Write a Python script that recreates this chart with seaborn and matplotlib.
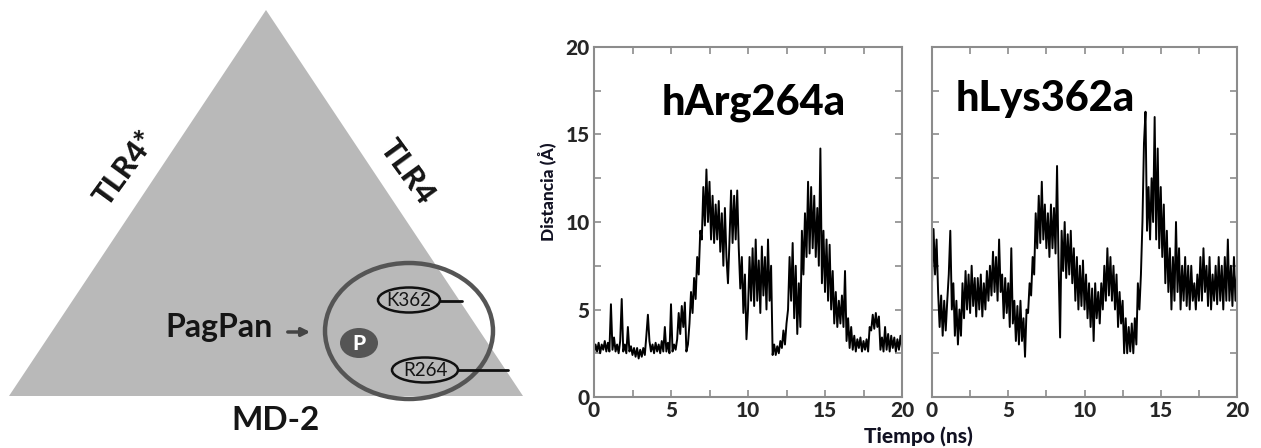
import numpy as np
import pandas as pd
import matplotlib
matplotlib.use("Agg")
import matplotlib.pyplot as plt
import seaborn as sns
from matplotlib.patches import Polygon, Ellipse, FancyArrowPatch

# distance traces, one value every 0.1 ns (0 - 20 ns)
harg264a = [
    2.5, 3.0, 2.6, 3.1, 2.5, 3.0, 2.7, 3.2, 2.6, 3.1,
    2.6, 5.3, 2.7, 3.4, 2.6, 3.0, 2.5, 3.2, 5.6, 2.6,
    3.0, 2.5, 4.0, 2.6, 2.9, 2.4, 2.8, 2.3, 2.8, 2.2,
    2.7, 2.3, 2.8, 2.4, 3.5, 4.7, 3.2, 2.6, 3.0, 2.5,
    3.1, 2.6, 3.0, 2.5, 3.2, 2.6, 4.0, 2.6, 3.1, 2.5,
    5.3, 2.6, 3.0, 2.7, 3.3, 4.8, 3.6, 5.2, 4.0, 5.4,
    2.6, 3.0, 4.2, 6.0, 4.8, 6.8, 5.6, 8.0, 7.0, 9.5,
    9.0, 12.0, 9.8, 13.0, 10.0, 12.3, 9.0, 11.5, 8.8, 11.0,
    9.0, 11.2, 8.3, 10.5, 7.5, 10.8, 8.0, 6.5, 9.0, 11.8,
    8.8, 11.5, 9.0, 11.8, 8.5, 6.2, 8.0, 4.8, 7.0, 3.3,
    5.0, 8.0, 5.5, 8.5, 5.2, 9.0, 5.5, 7.8, 4.8, 8.6,
    5.8, 8.0, 5.0, 9.0, 5.5, 7.5, 2.4, 3.0, 2.4, 2.9,
    2.5, 3.2, 2.8, 3.8, 3.0, 4.2, 5.0, 8.0, 5.5, 8.8,
    4.5, 7.5, 3.6, 6.5, 4.0, 9.5, 7.0, 10.5, 8.0, 12.3,
    8.2, 12.0, 8.5, 11.5, 8.0, 10.8, 7.5, 14.2, 6.5, 9.5,
    6.0, 9.0, 5.5, 8.7, 5.0, 7.2, 4.2, 6.0, 4.0, 5.5,
    4.2, 5.8, 4.0, 7.2, 3.2, 4.5, 2.8, 4.0, 2.7, 3.5,
    2.6, 3.3, 2.8, 3.4, 2.6, 3.2, 2.7, 3.3, 2.6, 4.0,
    3.8, 4.7, 3.9, 4.8, 4.0, 4.6, 2.7, 3.4, 2.6, 4.0,
    2.7, 3.6, 2.6, 3.5, 2.8, 3.4, 2.6, 3.3, 2.7, 3.5,
    2.8,
]

hlys362a = [
    6.5, 9.6, 7.0, 9.0, 6.0, 4.0, 5.8, 3.5, 5.5, 3.8,
    5.5, 7.0, 9.5, 5.0, 6.5, 3.5, 5.5, 3.0, 5.0, 3.5,
    6.5, 4.5, 7.2, 5.0, 7.0, 4.8, 7.5, 5.2, 6.8, 4.6,
    6.8, 5.0, 7.0, 4.6, 6.5, 5.0, 7.2, 5.5, 7.5, 5.8,
    8.3, 6.0, 8.0, 5.5, 9.0, 6.0, 7.0, 4.5, 6.8, 4.8,
    6.5, 4.0, 8.5, 4.2, 5.5, 3.2, 5.2, 3.0, 5.5, 3.2,
    4.5, 2.3, 5.0, 4.8, 6.5, 5.8, 8.0, 7.0, 10.5, 8.5,
    11.5, 8.8, 12.3, 9.0, 11.0, 8.5, 10.5, 8.0, 11.0, 8.5,
    10.8, 8.2, 13.2, 7.5, 3.4, 9.5, 7.2, 10.0, 6.8, 9.3,
    7.0, 9.5, 6.5, 8.5, 5.5, 8.0, 5.0, 7.5, 5.2, 7.8,
    5.0, 7.0, 4.5, 6.5, 4.0, 6.2, 3.2, 6.5, 4.5, 6.0,
    4.2, 6.5, 5.0, 7.5, 5.5, 8.5, 5.8, 8.0, 5.5, 7.5,
    5.0, 7.0, 4.0, 6.0, 4.2, 5.5, 2.5, 4.5, 2.5, 4.0,
    2.6, 4.2, 2.5, 4.5, 3.0, 6.5, 5.0, 7.0, 10.0, 14.5,
    16.3, 9.5, 12.0, 9.0, 12.5, 10.0, 16.0, 9.0, 14.2, 8.5,
    12.0, 8.0, 11.0, 6.5, 9.5, 6.0, 8.5, 5.0, 8.0, 5.5,
    10.0, 6.0, 8.5, 5.0, 7.5, 5.5, 8.0, 5.2, 7.5, 5.0,
    7.5, 5.5, 6.5, 5.0, 7.0, 5.5, 8.0, 5.5, 8.5, 6.0,
    7.5, 5.2, 8.0, 5.0, 7.0, 5.5, 7.5, 5.3, 8.0, 5.5,
    7.5, 5.0, 8.0, 5.5, 9.0, 5.5, 7.5, 5.2, 8.0, 5.5,
    7.0,
]

tiempo = np.round(np.arange(len(harg264a)) * 0.1, 1)
panel_names = ["hArg264a", "hLys362a"]
tick_values = [0, 5, 10, 15, 20]

sns.set_style("white")
plt.rcParams["font.family"] = ["Lato", "DejaVu Sans"]
plt.rcParams["font.weight"] = "bold"

W, H = 1261, 448
fig = plt.figure(figsize=(W / 100, H / 100), dpi=100)

# ---- schematic on the left (pixel coordinates) ----
ax0 = fig.add_axes([0, 0, 530 / W, 1])
ax0.set_xlim(0, 530)
ax0.set_ylim(H, 0)
ax0.axis("off")

txt = "#151515"
heavy = 900
ax0.add_patch(Polygon([(266, 10), (9, 396), (523, 396)], closed=True,
                      facecolor="#b9b9b9", edgecolor="none"))
ax0.add_patch(Ellipse((409, 331), 168, 136, facecolor="none",
                      edgecolor="#555555", lw=3.2))
ax0.add_patch(Ellipse((409, 300), 62, 25, facecolor="none",
                      edgecolor="#111111", lw=1.8))
ax0.add_patch(Ellipse((425, 370), 66, 25, facecolor="none",
                      edgecolor="#111111", lw=1.8))
ax0.plot([440, 462], [301, 301], color="#111111", lw=2)
ax0.plot([458, 508], [370, 370], color="#111111", lw=2)
ax0.add_patch(Ellipse((359, 343), 38, 30, facecolor="#555555", edgecolor="none"))
ax0.text(359, 343, "P", color="white", fontsize=15, ha="center", va="center",
         fontweight=heavy)
ax0.text(409, 301, "K362", color=txt, fontsize=13.5, ha="center", va="center",
         fontweight="normal")
ax0.text(425, 371, "R264", color=txt, fontsize=13.5, ha="center", va="center",
         fontweight="normal")
ax0.text(219, 328, "PagPan", color=txt, fontsize=23, ha="center", va="center",
         fontweight="bold")
ax0.add_patch(FancyArrowPatch((285, 332), (313, 332), arrowstyle="-|>",
                              mutation_scale=12, color="#444444", lw=2.5))
ax0.text(125, 168, "TLR4*", color=txt, fontsize=22, ha="center", va="center",
         rotation=54, fontweight=heavy)
ax0.text(407, 172, "TLR4", color=txt, fontsize=22, ha="center", va="center",
         rotation=-54, fontweight=heavy)
ax0.text(276, 420, "MD-2", color=txt, fontsize=24, ha="center", va="center",
         fontweight="bold")

# ---- the two distance panels ----
panel_boxes = [(594, 902), (932, 1237)]
top, bottom = 47, 397
title_pos = [(0.52, 0.84), (0.37, 0.85)]
frame = "#8c8c8c"

for i, (name, vals) in enumerate(zip(panel_names, [harg264a, hlys362a])):
    x0, x1 = panel_boxes[i]
    ax = fig.add_axes([x0 / W, 1 - bottom / H, (x1 - x0) / W, (bottom - top) / H])
    df = pd.DataFrame({"Tiempo": tiempo, "Distancia": vals})
    sns.lineplot(data=df, x="Tiempo", y="Distancia", ax=ax, color="black",
                 lw=1.4, estimator=None, sort=False)
    ax.set_xlim(0, 20)
    ax.set_ylim(0, 20)
    ax.set_xlabel("")
    ax.set_ylabel("")
    ax.set_xticks(tick_values)
    ax.set_xticks(np.arange(0, 20.1, 2.5), minor=True)
    ax.set_yticks(tick_values)
    ax.set_yticks(np.arange(0, 20.1, 2.5), minor=True)
    ax.set_xticklabels([str(v) for v in tick_values], fontsize=15, fontweight=heavy)
    if i == 0:
        ax.set_yticklabels([str(v) for v in tick_values], fontsize=15, fontweight=heavy)
    else:
        ax.set_yticklabels([])
    ax.tick_params(which="both", direction="in", top=True, right=True,
                   bottom=True, left=True, color=frame, width=1.2)
    ax.tick_params(which="major", length=5, pad=3)
    ax.tick_params(which="minor", length=5)
    for s in ax.spines.values():
        s.set_color(frame)
        s.set_linewidth(1.5)
    ax.text(title_pos[i][0], title_pos[i][1], name, transform=ax.transAxes,
            fontsize=30, fontweight=heavy, ha="center", va="center", color="black")

fig.text(547 / W, 1 - 192 / H, "Distancia (Å)", rotation=90, fontsize=12.5,
         fontweight=heavy, ha="center", va="center", color="#111122")
fig.text(918 / W, 1 - 436 / H, "Tiempo (ns)", fontsize=15,
         fontweight=heavy, ha="center", va="center", color="#111122")

fig.savefig("out.png", dpi=100)
